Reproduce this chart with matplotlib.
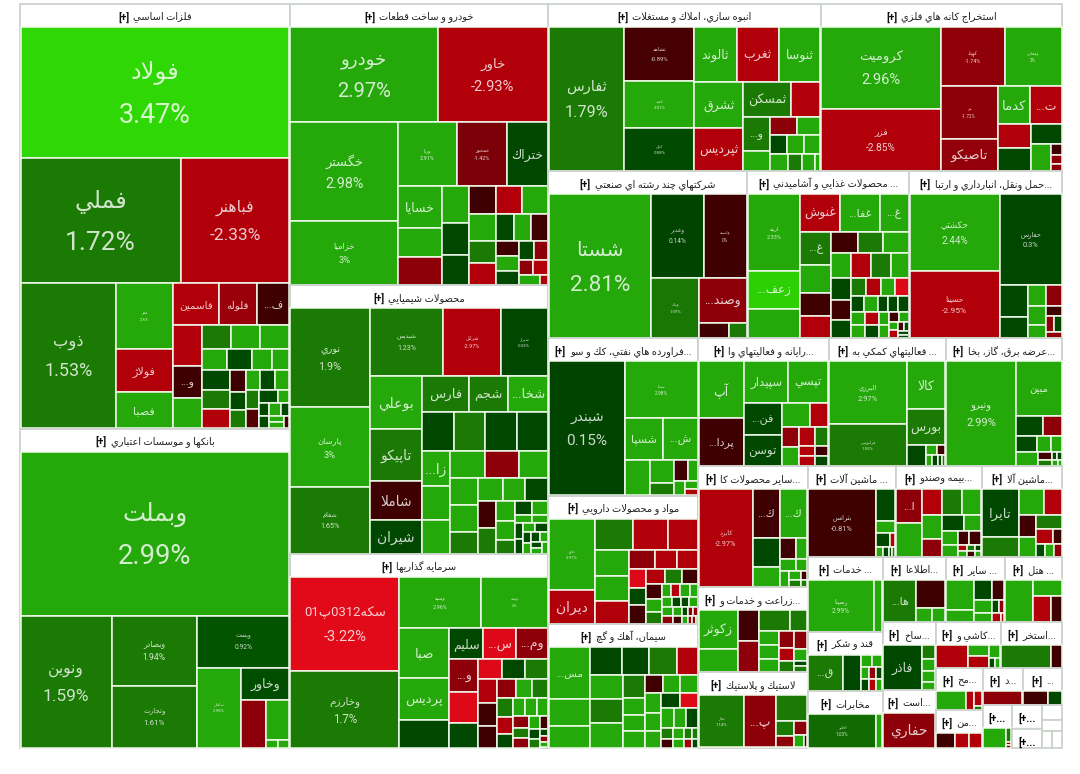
#!/bin/python
import numpy as np
import matplotlib
matplotlib.use('Agg')
import matplotlib.pyplot as plt
from matplotlib.patches import Rectangle

# stock sizes are the areas, changes are percent
# strips: how the cells are cut, n > 0 a row of n along the top, n < 0 a column of n at the left
metal_names = ['فولاد', 'فملي', 'فباهنر', 'ذوب', 'فجر', 'فولاژ', 'فصبا', 'فاسمين', 'فلوله', 'ف...', '', 'و...']
metal_sizes = [32850, 18800, 12790, 12922, 3520, 2255, 1925, 1786, 1482, 1254, 1120, 896, 812, 660, 660, 660, 520, 500, 400, 360, 520, 494, 494, 330, 270, 270, 255, 272, 255, 238, 238, 238, 140, 120, 110, 140, 100, 100, 80, 60]
metal_changes = [3.47, 1.72, -2.33, 1.53, 2.5, -2.7, 2.9, -2.8, -1.9, -0.7, -2.9, -0.5, 2.9, 1.7, 2.9, 2.9, 2.9, 0.5, 2.9, 2.9, 0.5, 1.7, -2.9, -0.5, 0.5, 1.7, 2.9, 0.5, 2.9, 1.7, -1, 0.5, 2.9, 0.5, 0.5, 2.9, 0.5, 2.9, 2.9, -0.5]
metal_fonts = [19.4, 19, 12.5, 13, 3, 8, 8, 7.5, 7.5, 8, 0, 8]
metal_strips = [1, 2, -1, -3, 3, -3, 3, 4, -3, -3, 3]

bank_names = ['وبملت', 'ونوين', 'وبصادر', 'وتجارت', 'ويست', 'سامان', 'وخاور']
bank_sizes = [42800, 11659, 5796, 5124, 4650, 3397, 1519, 1175, 897, 84, 84]
bank_changes = [2.99, 1.59, 1.94, 1.61, 0.92, 2.98, 0.7, -1.7, 2.9, 2.9, 2.9]
bank_fonts = [19.7, 12.4, 6.2, 5.7, 4.8, 3.2, 9]
bank_strips = [1, -1, -2, 1, -1, 1, -1, 1, 2]

auto_names = ['خودرو', 'خاور', 'خگستر', 'خزاميا', 'ورنا', 'خمحور', 'ختراك', 'خسايا']
auto_sizes = [13300, 9840, 9991, 6489, 3538, 2989, 2440, 1722, 1176, 1134, 936, 832, 754, 729, 702, 675, 676, 572, 546, 459, 442, 418, 330, 330, 288, 252, 240, 210, 208, 192, 64]
auto_changes = [2.97, -2.93, 2.98, 3, 2.91, -1.42, 0.4, 2.9, 2.9, -1.7, 2.9, 0.4, 0.4, -0.5, -2.9, 2.9, 2.9, 1.7, -3, 0.4, 2.9, -0.5, -0.5, 2.9, 0.4, 0.4, -1.7, -1.7, -2.9, 2.9, -2.9]
auto_fonts = [14.5, 10.6, 10.4, 6.7, 4, 4, 9, 9]
auto_strips = [2, -2, 3, -3, -3, 3, -3, 3, -3, 2, 2, 3]

chem_names = ['نوري', 'پارسان', 'شفام', 'شبديس', 'شرانل', 'شيراز', 'بوعلي', 'تاپيكو', 'شاملا', 'شيران', 'فارس', 'شجم', 'شخا...', '', '', '', '', 'زا...']
chem_sizes = [7372, 5928, 4940, 4680, 3640, 2990, 2600, 2550, 1900, 1650, 1564, 1326, 1326, 1147, 1147, 1147, 1110, 945, 891, 891, 884, 858, 728, 729, 702, 567, 528, 484, 484, 442, 425, 361, 342, 247, 238, 210, 130, 120, 110, 110, 100, 100, 90, 80, 80, 70, 70, 60, 60]
chem_changes = [1.9, 3, 1.65, 1.23, -2.97, 0.33, 2.9, 1.7, -0.5, 0.4, 1.7, 1.7, 2.9, 0.4, 1.7, 0.4, 0.4, 2.9, 2.9, 2.9, 2.9, -1.7, 2.9, 2.9, 2.9, 1.7, 2.9, 2.9, 0.4, -0.5, 1.7, 2.9, 2.9, 1.7, 0.4, 2.9, 2.9, 2.9, 0.4, 0.4, 2.9, 0.4, 0.4, 2.9, 0.4, 2.9, 0.4, 2.9, 2.9]
chem_fonts = [7.8, 6.7, 5.2, 5, 4, 3.2, 10, 10, 10, 10, 9.5, 9.5, 9.5, 0, 0, 0, 0, 10]
chem_strips = [-3, 3, -4, 3, 4, -3, 3, -3, 3, -2, -3, 2]

invest_names = ['سكه0312پ01', 'وخارزم', 'وسپه', 'وبيمه', 'صبا', 'پرديس', '', 'سليم', 'س...', 'وم...', 'و...']
invest_sizes = [9476, 7725, 3854, 3149, 2303, 1927, 1269, 986, 957, 899, 896, 840, 672, 456, 437, 418, 414, 396, 378, 323, 289, 272, 272, 256, 208, 192, 192, 176, 176, 144, 144, 132, 99, 88, 96, 50, 40, 40]
invest_changes = [-3.22, 1.7, 2.96, 3, 2.9, 2.9, 0.4, 0.4, -3.2, -1.7, -1.7, -3.2, 0.4, -3.2, 0.4, 1.7, -2.7, -0.5, -0.5, -1.7, 2.9, 1.7, 1.7, -2.9, 0.4, 2.9, 2.9, 2.9, -1.7, 1.7, -1.7, 2.9, 0.4, 1.7, -0.5, 0.4, -1.7, 2.9]
invest_fonts = [10.5, 8.3, 4, 3, 9.5, 9.5, 0, 9, 9, 9, 9]
invest_strips = [-2, 2, -3, 3, -3, 3, -3, 3, -3, 3, -3, -3, -4]

build_names = ['ثفارس', 'ثشاهد', 'ثاميد', 'كيان', 'ثالوند', 'ثغرب', 'ثنوسا', 'ثشرق', 'ثپرديس', 'ثمسكن', '', 'و...']
build_sizes = [10152, 3536, 3060, 2788, 2184, 2184, 2132, 2070, 1932, 1568, 928, 858, 494, 476, 391, 306, 288, 288, 272, 224, 192, 80]
build_changes = [1.79, -0.89, 3.01, 0.58, 2.9, -2.9, 2.9, 2.9, -2.8, 1.7, -2.9, 1.7, 2.9, -1.7, 2.9, 0.4, 2.9, 2.9, 2.9, 1.7, 2.9, 2.9]
build_fonts = [11.7, 4.3, 3.2, 3.2, 9, 9, 9, 9, 9, 9, 0, 8]
build_strips = [-1, -3, 3, -2, 2, -2, 2, 3, 4]

mine_names = ['كروميت', 'فزر', 'كهپاد', 'ومعادن', 'بتر', 'تاصيكو', 'كدما', 'ت...']
mine_sizes = [9200, 7015, 3591, 3192, 2860, 1705, 1152, 1116, 736, 704, 589, 513, 100, 90, 60]
mine_changes = [2.96, -2.85, -1.74, 3, -1.72, -1.8, 2.9, -2.7, -2.9, 0.4, 0.4, 2.9, -0.5, -1.7, -1.7]
mine_fonts = [10.5, 7.3, 4, 3.3, 3.4, 9.5, 9.5, 9]
mine_strips = [-2, 2, -2, 2, -2, 1, -1, -3]

multi_names = ['شستا', 'وغدير', 'واسپه', 'وپاك', 'وصند...']
multi_sizes = [13959, 4212, 3402, 2773, 2021, 420, 255]
multi_changes = [2.81, 0.14, 0, 1.09, -1.7, -0.5, 1.7]
multi_fonts = [16.2, 4.8, 3.5, 3.2, 9]
multi_strips = [-1, 2, -1, 1, 2]

food_names = ['ارينه', 'زعف...', '', 'غنوش', 'غفا...', 'غ...', 'غ...']
food_sizes = [3552, 1776, 1344, 1326, 1292, 952, 896, 756, 616, 588, 513, 475, 475, 437, 437, 437, 391, 396, 360, 324, 255, 238, 238, 221, 182, 182, 140, 140, 140, 169, 169, 156, 156, 117, 117, 90, 80, 70, 60, 50, 40, 30, 30]
food_changes = [2.33, 3.4, 2.9, -2.9, 2.9, 2.9, 1.7, 2.9, -0.5, -2.9, -0.5, 1.7, 2.9, 2.9, -2.9, 1.7, 2.9, 0.4, -0.5, 0.4, 1.7, -2.9, 2.9, -3.2, 0.4, 2.9, 0.4, 0.4, 0.4, 2.9, 2.9, -2.9, 0.4, 2.9, 2.9, -0.5, 2.9, 2.9, -3, -0.5, 0.4, 0.4, 0.4]
food_fonts = [4, 8.5, 0, 9, 8, 8, 8]
food_strips = [-3, 3, -4, 3, 4, -3, 4, 5, -2, -2, -2]

trans_names = ['حكشتي', 'حسينا', 'حفارس']
trans_sizes = [6438, 5655, 5185, 858, 546, 336, 304, 208, 315, 150, 120, 105, 90]
trans_changes = [2.44, -2.95, 0.3, 0.4, 0.4, 2.9, 2.9, 2.9, -1.7, -0.5, -1.7, 0.4, -1.7]
trans_fonts = [7, 6.1, 5.4]
trans_strips = [-2, 1, -2, -3, 1, 1, 2, 1]

refine_names = ['شبندر', 'شپنا', 'شسپا', 'ش...']
refine_sizes = [9360, 3744, 1443, 1326, 792, 506, 276, 260, 200, 140, 84, 72]
refine_changes = [0.15, 2.98, 2.9, 2.9, 2.9, 2.9, 1.7, -0.5, 2.9, 2.9, 2.9, -2.9]
refine_fonts = [11, 3.5, 8, 8]
refine_strips = [-1, 1, 2, -1, -2, 2, -1, -2]

comp_names = ['آپ', 'پردا...', 'سپيدار', 'تپسي', 'فن...', 'توسن']
comp_sizes = [2310, 1932, 1672, 1482, 1120, 1050, 616, 396, 320, 288, 270, 150, 135, 234, 130, 117]
comp_changes = [2.9, -0.5, 2.9, 2.9, 0.4, 0.4, 2.9, -2.9, -1.7, 2.9, -2.9, -2.9, -2.9, 1.7, -0.5, 0.4]
comp_fonts = [9, 8, 8.5, 8.5, 8, 8.5]
comp_strips = [-2, 2, -2, 2, -2, -3, -3]

aux_names = ['البرزي', 'فرابورس', 'كالا', 'بورس']
aux_sizes = [4575, 3000, 1710, 1292, 378, 110, 77, 60, 56, 40, 32]
aux_changes = [2.97, 1.55, 2.9, 1.7, 0.4, 2.9, -0.5, 2.9, 0.4, 0.4, 1.7]
aux_fonts = [5.4, 3.2, 9, 9]
aux_strips = [-2, 1, 1, -1, 2, 4]

power_names = ['ونيرو', 'مبين']
power_sizes = [6528, 2254, 494, 342, 300, 195, 150, 280, 104, 40, 32, 78, 30, 20]
power_changes = [2.99, 2.9, 0.4, -1.7, 0.4, 2.9, 2.9, 2.9, -0.5, 0.4, 0.4, 1.7, 2.9, 2.9]
power_fonts = [8, 7]
power_strips = [-1, 1, 2, 3, -1, 3, 3]

pharma_names = ['دارو', 'ديران']
pharma_sizes = [2911, 1353, 1036, 952, 812, 806, 744, 682, 425, 374, 357, 270, 255, 265, 247, 221, 208, 210, 182, 154, 108, 108, 108, 96, 88, 72, 72, 72, 88, 72, 48, 40, 40, 80, 64, 40, 30, 24, 16]
pharma_changes = [2.97, -2.9, 1.7, -2.9, -2.9, 2.9, 2.9, -2.9, -1.7, -2.9, -2.9, -3.2, 0.4, -0.5, -2.9, 1.7, -0.5, -0.5, 2.9, 1.7, 2.9, -2.9, 2.9, 2.9, 2.9, 0.4, 0.4, 2.9, 2.9, 2.9, 0.4, -1.7, -1.7, -1.7, -0.5, 2.9, -1.7, -1.7, 2.9]
pharma_fonts = [3.2, 10]
pharma_strips = [-2, 3, -3, 3, -3, 3, -3, 4, 4, 5, 6]

cement_names = ['مس...']
cement_sizes = [1776, 925, 740, 720, 624, 624, 480, 660, 660, 650, 420, 300, 280, 300, 288, 256, 272, 270, 255, 225, 216, 216, 216, 216, 198, 100, 90, 64, 48, 90, 81, 60, 40]
cement_changes = [2.9, 2.9, 2.9, 0.4, 0.4, 1.7, -2.9, 2.9, 1.7, 2.9, 1.7, 2.9, 2.9, 2.9, -0.5, 2.9, 2.9, 2.9, 2.9, 2.9, 0.4, -3.2, 2.9, 2.9, 0.4, 1.7, 2.9, 1.7, 1.7, -0.5, 2.9, -2, 0.4]
cement_fonts = [7.5]
cement_strips = [-3, 4, -3, -4, 3, -3, 2, 3, 4, 4]

other_names = ['كايزد', 'ك...', 'ك...']
other_sizes = [4650, 1161, 1161, 700, 475, 285, 209, 165, 121, 128, 99, 54, 66, 36]
other_changes = [-2.97, -0.5, 2.9, 0.4, 2.9, -0.5, 2.9, 2.9, 2.9, 2.9, 2.9, -0.5, 1.7, 1.7]
other_fonts = [5.2, 8, 8]
other_strips = [-1, 2, -2, 2, 2, -1, 2, 2]

farm_names = ['زكوثر']
farm_sizes = [1330, 770, 570, 551, 570, 323, 247, 247, 228, 224, 168, 140, 192, 132, 60, 60]
farm_changes = [2.9, 2.9, -0.5, -1.7, 1.7, 1.7, 2.9, 2.9, 2.9, -1.7, -2.9, 1.7, -1.7, 2.9, 0.4, 1.7]
farm_fonts = [9]
farm_strips = [-2, -2, 2, -3, -3, -4]

plastic_names = ['بخار', 'پ...']
plastic_sizes = [2009, 1470, 682, 238, 170, 156, 96, 36]
plastic_changes = [1.14, -1.7, 1.7, 1.7, -1.7, -1.7, 2.9, -0.5]
plastic_fonts = [3.2, 9]
plastic_strips = [-1, -1, 1, -2, 1, -1, -1]

machine_names = ['بترانس']
machine_sizes = [3906, 540, 200, 168, 60, 63, 45, 30, 25]
machine_changes = [-0.81, 0.4, 2.9, 0.4, -2.9, 2.9, 0.4, 0.4, 1.7]
machine_fonts = [5.3]
machine_strips = [-1, 1, 1, 2, 4]

insure_names = ['ا...']
insure_sizes = [713, 713, 414, 378, 288, 437, 414, 273, 221, 195, 165, 130, 143, 40, 40, 30, 40, 40, 30]
insure_changes = [-1.7, 2.9, -2.9, 2.9, -1.7, 1.7, 2.9, 0.4, 2.9, 2.9, 2.9, -0.5, -0.5, -2.9, 1.7, 0.4, 2.9, -0.5, 2.9]
insure_fonts = [8]
insure_strips = [-2, -3, 2, 2, -2, 2, 3, 3]

tire_names = ['تايرا']
tire_sizes = [1419, 594, 528, 374, 320, 288, 288, 210, 112, 88, 88, 77]
tire_changes = [0.4, 1.7, 2.9, -2.9, -0.5, 2.9, 1.7, -2.9, -0.5, 0.4, 2.9, -1.7]
tire_fonts = [9.5]
tire_strips = [-2, 2, -2, 1, 2, 3]

service_names = ['رسپنا']
service_sizes = [3087, 392]
service_changes = [2.99, 2.9]
service_fonts = [4.8]
service_strips = [-1, -1]

info_names = ['ها...']
info_sizes = [1209, 700, 195, 156]
info_changes = [1.7, -0.5, 2.9, 2.9]
info_fonts = [8]
info_strips = [-1, 1, 2]

misc_sizes = [675, 275, 272, 204, 192, 128, 72, 60, 56, 24]
misc_changes = [2.9, 2.9, 0.4, -0.5, 2.9, 2.9, 0.4, -1.7, -2.9, -2.9]
misc_strips = [-2, 2, -2, 2, 2]

hotel_sizes = [975, 378, 368, 230]
hotel_changes = [2.9, 2.9, -2.9, -0.5]
hotel_strips = [-1, 1, 2]

sugar_names = ['ق...']
sugar_sizes = [990, 528, 110, 100, 80, 60, 60, 80, 60, 60]
sugar_changes = [1.7, 0.4, 2.9, 2.9, 2.9, -1.7, 0.4, 0.4, -3, 2.9]
sugar_fonts = [8]
sugar_strips = [-1, -1, 2, 3, 3]

telecom_names = ['اخابر']
telecom_sizes = [2112, 198]
telecom_changes = [1.03, 2.9]
telecom_fonts = [3.4]
telecom_strips = [-1, -1]

sakht_names = ['فاذر']
sakht_sizes = [1505, 156, 143, 117, 91]
sakht_changes = [0.4, 1.7, 2.9, 2.9, 2.9]
sakht_fonts = [9]
sakht_strips = [-1, -4]

drill_names = ['حفاري']
drill_sizes = [1650]
drill_changes = [-1.7]
drill_fonts = [10]
drill_strips = [1]

tile_sizes = [616, 200, 200, 126, 50, 40]
tile_changes = [-2.9, 2.9, -2.9, 2.9, 0.4, 2.9]
tile_strips = [-1, -2, 1, 2]

quarry_sizes = [966, 210]
quarry_changes = [1.7, -0.5]
quarry_strips = [-1, -1]

moh_sizes = [416, 128, 91, 21]
moh_changes = [2.9, -2.7, -2.9, 1.7]
moh_strips = [-1, -1, -2]

man_sizes = [192, 144, 144]
man_changes = [-0.5, -2.9, -2.9]
man_strips = [-1, -1, -1]

dal_sizes = [407]
dal_changes = [-1.7]
dal_strips = [1]

dots_sizes = [231, 132]
dots_changes = [-0.5, 0.4]
dots_strips = [-1, -1]

tiny_sizes = [342, 54, 12, 12]
tiny_changes = [2.9, 1.7, -1.7, -1.7]
tiny_strips = [-1, -3]

thin_sizes = [60]
thin_changes = [1.7]
thin_strips = [1]

sector_titles = ['فلزات اساسي', 'بانكها و موسسات اعتباري', 'خودرو و ساخت قطعات', 'محصولات شيميايي', 'سرمايه گذاريها',
                 'انبوه سازي، املاك و مستغلات', 'استخراج كانه هاي فلزي', 'شركتهاي چند رشته اي صنعتي', '... محصولات غذايي و آشاميدني',
                 '...حمل ونقل، انبارداري و ارتبا', '...فراورده هاي نفتي، كك و سو', 'مواد و محصولات دارويي', 'سيمان، آهك و گچ',
                 '...رايانه و فعاليتهاي وا', '... فعاليتهاي كمكي به', '...عرضه برق، گاز، بخا', '...ساير محصولات كا',
                 '...زراعت و خدمات و', 'لاستيك و پلاستيك', '... ماشين آلات', '...بيمه وصندو', '...ماشين آلا',
                 '... خدمات', 'قند و شكر', 'مخابرات', '...اطلاعا', '... ساير', '... هتل', '...ساخ', '...است',
                 '...كاشي و', '...استخر', '...مح', '...من', '...د', '...', '[+...', '[+...', '[+...', '', '', '', '']
sector_sizes = [114480, 86130, 72540, 69430, 50000, 45510, 40328, 33233, 27054, 25551, 23625, 19275, 18600, 16640, 14976, 14848,
                13189, 9265, 8284, 8008, 7826, 7280, 5625, 4425, 4275, 4095, 3835, 3705, 3604, 3074, 2990, 2806, 1974, 1786,
                1480, 1443, 1247, 720, 570, 300, 220, 170, 170]
sector_strips = [-2, -3, 2, 3, -3, 3, -3, 3, -3, 3, -2, 2, -2, 2, -1, -2, 1, 1, 2]

# names, sizes, changes, fonts, strips, how many labels carry a percent
sector_data = [(metal_names, metal_sizes, metal_changes, metal_fonts, metal_strips, 5),
               (bank_names, bank_sizes, bank_changes, bank_fonts, bank_strips, 6),
               (auto_names, auto_sizes, auto_changes, auto_fonts, auto_strips, 6),
               (chem_names, chem_sizes, chem_changes, chem_fonts, chem_strips, 6),
               (invest_names, invest_sizes, invest_changes, invest_fonts, invest_strips, 4),
               (build_names, build_sizes, build_changes, build_fonts, build_strips, 4),
               (mine_names, mine_sizes, mine_changes, mine_fonts, mine_strips, 5),
               (multi_names, multi_sizes, multi_changes, multi_fonts, multi_strips, 4),
               (food_names, food_sizes, food_changes, food_fonts, food_strips, 1),
               (trans_names, trans_sizes, trans_changes, trans_fonts, trans_strips, 3),
               (refine_names, refine_sizes, refine_changes, refine_fonts, refine_strips, 2),
               (pharma_names, pharma_sizes, pharma_changes, pharma_fonts, pharma_strips, 1),
               (cement_names, cement_sizes, cement_changes, cement_fonts, cement_strips, 0),
               (comp_names, comp_sizes, comp_changes, comp_fonts, comp_strips, 0),
               (aux_names, aux_sizes, aux_changes, aux_fonts, aux_strips, 2),
               (power_names, power_sizes, power_changes, power_fonts, power_strips, 1),
               (other_names, other_sizes, other_changes, other_fonts, other_strips, 1),
               (farm_names, farm_sizes, farm_changes, farm_fonts, farm_strips, 0),
               (plastic_names, plastic_sizes, plastic_changes, plastic_fonts, plastic_strips, 1),
               (machine_names, machine_sizes, machine_changes, machine_fonts, machine_strips, 1),
               (insure_names, insure_sizes, insure_changes, insure_fonts, insure_strips, 0),
               (tire_names, tire_sizes, tire_changes, tire_fonts, tire_strips, 0),
               (service_names, service_sizes, service_changes, service_fonts, service_strips, 1),
               (sugar_names, sugar_sizes, sugar_changes, sugar_fonts, sugar_strips, 0),
               (telecom_names, telecom_sizes, telecom_changes, telecom_fonts, telecom_strips, 1),
               (info_names, info_sizes, info_changes, info_fonts, info_strips, 0),
               ([], misc_sizes, misc_changes, [], misc_strips, 0),
               ([], hotel_sizes, hotel_changes, [], hotel_strips, 0),
               (sakht_names, sakht_sizes, sakht_changes, sakht_fonts, sakht_strips, 0),
               (drill_names, drill_sizes, drill_changes, drill_fonts, drill_strips, 0),
               ([], tile_sizes, tile_changes, [], tile_strips, 0),
               ([], quarry_sizes, quarry_changes, [], quarry_strips, 0),
               ([], moh_sizes, moh_changes, [], moh_strips, 0),
               ([], man_sizes, man_changes, [], man_strips, 0),
               ([], dal_sizes, dal_changes, [], dal_strips, 0),
               ([], dots_sizes, dots_changes, [], dots_strips, 0),
               ([], tiny_sizes, tiny_changes, [], tiny_strips, 0),
               ([], thin_sizes, thin_changes, [], thin_strips, 0)]

# change -> colour stops of the map
color_stops = [-3.22, -3.0, -2.3, -1.4, -0.8, 0, 0.01, 0.9, 1.1, 2.0, 2.3, 3.05, 3.47]
color_r = [226, 178, 178, 122, 62, 62, 0, 0, 26, 26, 36, 36, 47]
color_g = [10, 0, 0, 0, 0, 0, 66, 80, 122, 122, 168, 168, 216]
color_b = [25, 10, 10, 8, 0, 0, 0, 0, 3, 3, 10, 10, 4]

# isolated code point, and whether the letter has initial/medial forms
forms = {'ا': (0xFE8D, 0), 'آ': (0xFE81, 0), 'ب': (0xFE8F, 1), 'پ': (0xFB56, 1), 'ت': (0xFE95, 1), 'ث': (0xFE99, 1),
         'ج': (0xFE9D, 1), 'چ': (0xFB7A, 1), 'ح': (0xFEA1, 1), 'خ': (0xFEA5, 1), 'د': (0xFEA9, 0), 'ذ': (0xFEAB, 0),
         'ر': (0xFEAD, 0), 'ز': (0xFEAF, 0), 'ژ': (0xFB8A, 0), 'س': (0xFEB1, 1), 'ش': (0xFEB5, 1), 'ص': (0xFEB9, 1),
         'ض': (0xFEBD, 1), 'ط': (0xFEC1, 1), 'ظ': (0xFEC5, 1), 'ع': (0xFEC9, 1), 'غ': (0xFECD, 1), 'ف': (0xFED1, 1),
         'ق': (0xFED5, 1), 'ك': (0xFED9, 1), 'ک': (0xFB8E, 1), 'گ': (0xFB92, 1), 'ل': (0xFEDD, 1), 'م': (0xFEE1, 1),
         'ن': (0xFEE5, 1), 'ه': (0xFEE9, 1), 'و': (0xFEED, 0), 'ي': (0xFEF1, 1), 'ی': (0xFBFC, 1)}


def shape(text):
    # matplotlib has no arabic shaping, so pick the joined forms and lay the string out visually
    out = []
    i = 0
    joined = False
    while i < len(text):
        c = text[i]
        if c not in forms:
            out.append(c)
            joined = False
            i += 1
            continue
        if c == 'ل' and i + 1 < len(text) and text[i + 1] == 'ا':
            out.append(chr(0xFEFC if joined else 0xFEFB))
            joined = False
            i += 2
            continue
        base, connects = forms[c]
        next_letter = i + 1 < len(text) and text[i + 1] in forms
        if connects and next_letter:
            out.append(chr(base + (3 if joined else 2)))
            joined = True
        else:
            out.append(chr(base + (1 if joined else 0)))
            joined = False
        i += 1
    out = out[::-1]
    # digit runs keep their own direction
    res = ''
    run = ''
    for c in out:
        if c.isdigit():
            run += c
        else:
            res += run[::-1] + c
            run = ''
    return res + run[::-1]


def tile(values, strips, x0, y0, x1, y1):
    # cut the rectangle strip by strip, areas follow the values
    rects = []
    total = float(sum(values))
    strips = list(strips)
    i = 0
    while i < len(values):
        if strips:
            n = strips.pop(0)
        else:
            # what is left over is too small to have been read one by one
            n = 2 if y1 - y0 > x1 - x0 else -2
        row = values[i:i + abs(n)]
        part = sum(row)
        if n > 0:
            y2 = y0 + (y1 - y0) * part / total
            x = x0
            for v in row:
                w = (x1 - x0) * v / part
                rects.append((x, y0, w, y2 - y0))
                x += w
            y0 = y2
        else:
            x2 = x0 + (x1 - x0) * part / total
            y = y0
            for v in row:
                h = (y1 - y0) * v / part
                rects.append((x0, y, x2 - x0, h))
                y += h
            x0 = x2
        total -= part
        i += abs(n)
    return rects


def cell_color(change):
    return (np.interp(change, color_stops, color_r) / 255, np.interp(change, color_stops, color_g) / 255,
            np.interp(change, color_stops, color_b) / 255)


def fit_name(t, width):
    # long names shrink until they sit inside the cell
    tw = t.get_window_extent(renderer).width
    if tw > 0.88 * width:
        t.set_fontsize(t.get_fontsize() * 0.88 * width / tw)


fonts = ['Roboto', 'DejaVu Sans']
fig = plt.figure(figsize=(10.8, 7.74), dpi=100)
ax = fig.add_axes([0, 0, 1, 1])
ax.set_xlim(0, 1080)
ax.set_ylim(774, 0)
ax.axis('off')
renderer = fig.canvas.get_renderer()

header = 23
sector_rects = tile(sector_sizes, sector_strips, 20, 4, 1062, 748)
for k, (sx, sy, sw, sh) in enumerate(sector_rects):
    ax.add_patch(Rectangle((sx, sy), sw, sh, fc='white', ec='#ccd2cc', lw=1.3))
    title = sector_titles[k]
    cy = sy + 13
    if title == '[+...':
        ax.text(sx + sw / 2, cy, title, fontsize=7.3, fontweight='bold', ha='center', va='center', family=fonts)
    elif title:
        t = ax.text(0, cy, shape(title), fontsize=7.1, ha='left', va='center', color='#222222', family=fonts)
        p = ax.text(0, cy, '[+]', fontsize=7.3, fontweight='bold', ha='left', va='center', color='#111111', family=fonts)
        tw = t.get_window_extent(renderer).width
        pw = p.get_window_extent(renderer).width
        left = sx + (sw - tw - pw - 4) / 2
        p.set_x(left)
        t.set_x(left + pw + 4)
    if k >= len(sector_data) or sh <= header + 0.5:
        continue
    names, sizes, changes, font_list, strips, pct_count = sector_data[k]
    cells = tile(sizes, strips, sx + 0.5, sy + header, sx + sw - 0.5, sy + sh - 0.5)
    for m, (x, y, w, h) in enumerate(cells):
        color = cell_color(changes[m])
        ax.add_patch(Rectangle((x, y), w, h, fc=color, ec='#f2fbee', lw=1.1))
        if m < len(names) and names[m]:
            text_color = tuple(0.2 * c + 0.8 for c in color)
            size = font_list[m]
            mid = y + h / 2 + size * 0.1
            if m < pct_count:
                gap = size * 1.39 * 0.78
                t = ax.text(x + w / 2, mid - gap, shape(names[m]), fontsize=size * 0.9, color=text_color, ha='center', va='center', family=fonts)
                ax.text(x + w / 2, mid + gap, '%g%%' % changes[m], fontsize=size, color=text_color, ha='center', va='center', family=fonts)
            else:
                t = ax.text(x + w / 2, mid, shape(names[m]), fontsize=size, color=text_color, ha='center', va='center', family=fonts)
            fit_name(t, w)

fig.savefig('out.png', dpi=100, facecolor='white')
